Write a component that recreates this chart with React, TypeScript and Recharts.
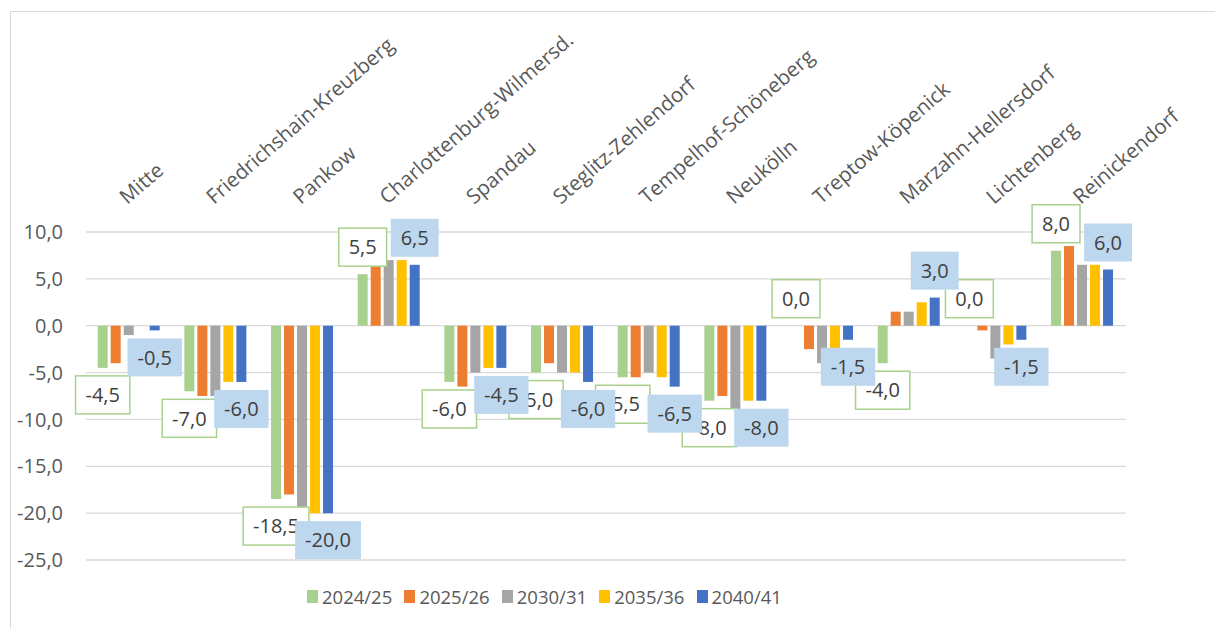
import React from 'react';
import { BarChart, Bar, XAxis, YAxis, CartesianGrid, Legend, LabelList } from 'recharts';

const categories = [
  'Mitte',
  'Friedrichshain-Kreuzberg',
  'Pankow',
  'Charlottenburg-Wilmersd.',
  'Spandau',
  'Steglitz-Zehlendorf',
  'Tempelhof-Schöneberg',
  'Neukölln',
  'Treptow-Köpenick',
  'Marzahn-Hellersdorf',
  'Lichtenberg',
  'Reinickendorf',
];

const seriesNames = ['2024/25', '2025/26', '2030/31', '2035/36', '2040/41'];

const values2024 = [-4.5, -7.0, -18.5, 5.5, -6.0, -5.0, -5.5, -8.0, 0.0, -4.0, 0.0, 8.0];
const values2025 = [-4.0, -7.5, -18.0, 7.5, -6.5, -4.0, -5.5, -7.5, -2.5, 1.5, -0.5, 8.5];
const values2030 = [-1.0, -7.5, -20.0, 7.0, -5.0, -5.0, -5.0, -9.0, -4.0, 1.5, -3.5, 6.5];
const values2035 = [0.0, -6.0, -20.0, 7.0, -4.5, -5.0, -5.5, -8.0, -2.5, 2.5, -2.0, 6.5];
const values2040 = [-0.5, -6.0, -20.0, 6.5, -4.5, -6.0, -6.5, -8.0, -1.5, 3.0, -1.5, 6.0];

const yTicks = [-25, -20, -15, -10, -5, 0, 5, 10];

const seriesValues = [values2024, values2025, values2030, values2035, values2040];
const seriesKeys = ['s0', 's1', 's2', 's3', 's4'];
const colors = ['#A9D18E', '#ED7D31', '#A5A5A5', '#FFC000', '#4472C4'];

const data = categories.map((c, i) => {
  const row: any = { name: c };
  seriesKeys.forEach((k, j) => {
    row[k] = seriesValues[j][i];
  });
  return row;
});

const FONT = '"Open Sans", "Noto Sans", sans-serif';
const fmt = (v: number) => v.toFixed(1).replace('.', ',');

const textWidth = (s: string, fs: number) => {
  let w = 0;
  for (const ch of s) {
    if (ch === '-') w += 0.322 * fs;
    else if (ch === ',') w += 0.25 * fs;
    else w += 0.572 * fs;
  }
  return w;
};

const makeLabel = (variant: 'green' | 'blue') => (props: any) => {
  const vb = props.viewBox || {};
  const x = vb.x ?? props.x;
  const y = vb.y ?? props.y;
  const w = vb.width ?? props.width;
  const h = vb.height ?? props.height ?? 0;
  const v = Number(props.value);
  if (x == null || y == null || isNaN(v)) return null;
  const top = Math.min(y, y + h);
  const bottom = Math.max(y, y + h);
  const cx = x + w / 2;
  let cy = v >= 0 ? top - 27 : bottom + 27;
  const fs = 20;
  const txt = fmt(v);
  const bw = textWidth(txt, fs) + 20;
  const bh = 38;
  return (
    <g>
      <rect
        x={cx - bw / 2}
        y={cy - bh / 2}
        width={bw}
        height={bh}
        fill={variant === 'blue' ? '#BDD7EE' : '#FFFFFF'}
        stroke={variant === 'green' ? '#A9D18E' : 'none'}
        strokeWidth={1.5}
      />
      <text x={cx} y={cy + fs * 0.36} textAnchor="middle" fontSize={fs} fill="#404040" fontFamily={FONT}>
        {txt}
      </text>
    </g>
  );
};

const CategoryTick = (props: any) => {
  const { x, y, payload } = props;
  const tx = x - 2;
  const ty = y - 27;
  return (
    <text
      x={tx}
      y={ty}
      transform={`rotate(-41 ${tx} ${ty})`}
      textAnchor="start"
      fontSize={20.5}
      fill="#595959"
      fontFamily={FONT}
    >
      {payload.value}
    </text>
  );
};

const renderLegend = (props: any) => {
  const payload = props.payload || [];
  return (
    <div style={{ position: 'relative', width: 1215, height: 32 }}>
      {payload.map((p: any, i: number) => (
        <div
          key={p.value}
          style={{
            position: 'absolute',
            left: 307 + i * 97.4,
            top: 0,
            height: 32,
            display: 'flex',
            alignItems: 'center',
          }}
        >
          <span style={{ width: 11, height: 13, background: p.color, display: 'inline-block', marginRight: 4 }} />
          <span style={{ fontSize: 18.5, color: '#595959', fontFamily: FONT, whiteSpace: 'nowrap' }}>{p.value}</span>
        </div>
      ))}
    </div>
  );
};

export default function App() {
  return (
    <div style={{ position: 'absolute', left: 0, top: 0, width: 1215, height: 628, background: '#ffffff', overflow: 'hidden' }}>
      <div
        style={{
          position: 'absolute',
          left: 10,
          top: 11,
          width: 1215,
          height: 628,
          borderTop: '1.5px solid #D9D9D9',
          borderLeft: '1.5px solid #D9D9D9',
        }}
      />
      <div style={{ position: 'absolute', left: 0, top: 0 }}>
        <BarChart
          width={1215}
          height={628}
          data={data}
          margin={{ top: 12, right: 89, left: 10, bottom: 36 }}
          barCategoryGap="13.5%"
          barGap={3}
        >
          <CartesianGrid vertical={false} stroke="#D9D9D9" strokeWidth={1.3} />
          <XAxis
            dataKey="name"
            orientation="top"
            height={220}
            interval={0}
            tickLine={false}
            axisLine={false}
            tickSize={0}
            tickMargin={0}
            tick={<CategoryTick />}
          />
          <YAxis
            domain={[-25, 10]}
            ticks={yTicks}
            width={76}
            tickLine={false}
            axisLine={false}
            tickSize={0}
            tickMargin={23}
            tickFormatter={(v: number) => fmt(v)}
            tick={{ fontSize: 20, fill: '#595959', fontFamily: FONT }}
            allowDataOverflow
          />
          <Legend
            verticalAlign="bottom"
            content={renderLegend}
            wrapperStyle={{ left: 0, top: 580, bottom: 'auto', width: 1215, height: 32 }}
          />
          {seriesKeys.map((k, j) => (
            <Bar
              key={k}
              dataKey={k}
              name={seriesNames[j]}
              fill={colors[j]}
              isAnimationActive={false}
              minPointSize={j === 0 ? 0.01 : 0}
            >
              {j === 0 ? <LabelList dataKey={k} content={makeLabel('green')} /> : null}
              {j === 4 ? <LabelList dataKey={k} content={makeLabel('blue')} /> : null}
            </Bar>
          ))}
        </BarChart>
      </div>
    </div>
  );
}
